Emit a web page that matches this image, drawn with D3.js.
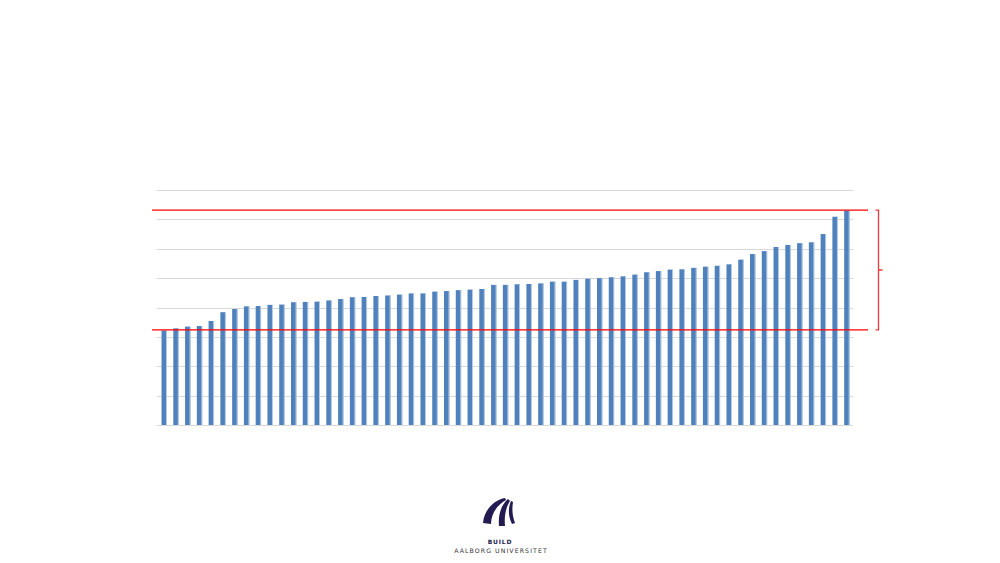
<!DOCTYPE html>
<html>
<head>
<meta charset="utf-8">
<script src="https://cdn.jsdelivr.net/npm/d3@7"></script>
<style>
  body { margin: 0; background: #fff; }
  svg { display: block; }
</style>
</head>
<body>
<div id="chart"></div>
<script>
// bar values, sorted ascending (no axis labels in the original, read in grid units)
var values = [
  32.2, 32.9, 33.5, 33.7, 35.4, 38.4, 39.5, 40.4, 40.5, 40.9,
  41.0, 41.8, 41.9, 42.0, 42.4, 42.9, 43.5, 43.6, 43.9, 44.1,
  44.4, 44.8, 44.8, 45.4, 45.6, 45.9, 46.1, 46.3, 47.7, 47.7,
  47.9, 48.0, 48.2, 48.8, 48.8, 49.4, 49.8, 50.0, 50.3, 50.6,
  51.2, 52.0, 52.4, 52.9, 53.0, 53.5, 53.9, 54.2, 54.7, 56.3,
  58.2, 59.2, 60.6, 61.3, 61.9, 62.2, 65.0, 70.9, 73.0
];
var gridTicks = [0, 10, 20, 30, 40, 50, 60, 70, 80];
var orgName = "BUILD";
var uniName = "AALBORG UNIVERSITET";

var width = 1000, height = 563;

var svg = d3.select("#chart").append("svg")
  .attr("width", width)
  .attr("height", height);

var x = d3.scaleBand()
  .domain(d3.range(values.length))
  .range([158, 853])
  .paddingInner(0.55)
  .paddingOuter(0.3);

var y = d3.scaleLinear()
  .domain([0, 80])
  .range([425, 190]);

// gridlines
svg.append("g")
  .selectAll("line")
  .data(gridTicks)
  .enter().append("line")
  .attr("x1", 157)
  .attr("x2", 853)
  .attr("y1", function (d) { return Math.round(y(d)) + 0.5; })
  .attr("y2", function (d) { return Math.round(y(d)) + 0.5; })
  .style("stroke", "#d9d9d9")
  .style("stroke-width", 1);

// bars
var bars = svg.append("g").selectAll("g")
  .data(values)
  .enter().append("g");

bars.append("rect")
  .attr("x", function (d, i) { return x(i); })
  .attr("y", function (d) { return y(d); })
  .attr("width", x.bandwidth())
  .attr("height", function (d) { return y(0) - y(d); })
  .style("fill", "#4f81bd");

// light edge like the office chart style
bars.append("rect")
  .attr("x", function (d, i) { return x(i) + x.bandwidth() - 0.8; })
  .attr("y", function (d) { return y(d); })
  .attr("width", 1)
  .attr("height", function (d) { return y(0) - y(d); })
  .style("fill", "#b9cde5");

// min / max reference lines
var lo = d3.min(values), hi = d3.max(values);
svg.append("g")
  .selectAll("line")
  .data([hi, lo])
  .enter().append("line")
  .attr("x1", 152)
  .attr("x2", 868)
  .attr("y1", function (d) { return y(d) - 0.5; })
  .attr("y2", function (d) { return y(d) - 0.5; })
  .style("stroke", "#ff0000")
  .style("stroke-width", 1.2);

// bracket on the right
var yTop = y(hi) - 0.5, yBot = y(lo) - 0.5, bx = 878.5;
svg.append("path")
  .attr("d", "M" + (bx - 3) + "," + yTop + "H" + bx + "V" + yBot + "H" + (bx - 3) +
    "M" + bx + "," + ((yTop + yBot) / 2) + "H" + (bx + 4))
  .style("fill", "none")
  .style("stroke", "#f0383a")
  .style("stroke-width", 1.3);

// logo
var logo = svg.append("g")
  .attr("transform", "translate(500,0)")
  .style("fill", "#221c50");

logo.append("path")
  .attr("d", "M5,498 C-6,500 -16,510 -17,523 L-9,524 C-9,514 -3,505 6,500 Z");
logo.append("path")
  .attr("d", "M8,499 C1,505 -2,515 -1,526 L5,526 C4,516 6,507 10,501 Z");
logo.append("path")
  .attr("d", "M11,501 C8,508 8,516 12,524 L15,523 C12,515 12,508 13,502 Z");

svg.append("text")
  .attr("x", 500)
  .attr("y", 543.5)
  .attr("text-anchor", "middle")
  .style("font-family", "DejaVu Sans, sans-serif")
  .style("font-weight", "bold")
  .style("font-size", "6px")
  .style("letter-spacing", "0.8px")
  .style("fill", "#221c50")
  .text(orgName);

svg.append("text")
  .attr("x", 501)
  .attr("y", 553)
  .attr("text-anchor", "middle")
  .style("font-family", "DejaVu Sans, sans-serif")
  .style("font-size", "6.2px")
  .style("letter-spacing", "1.1px")
  .style("fill", "#333")
  .text(uniName);
</script>
</body>
</html>
